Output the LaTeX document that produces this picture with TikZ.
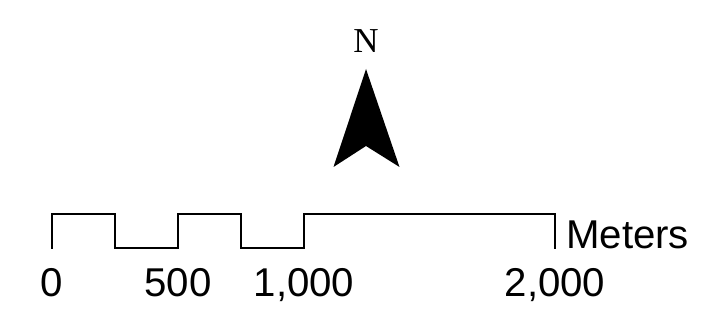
\documentclass[tikz,border=0pt]{standalone}
\usepackage{fontspec}
\setmainfont{Liberation Sans}
\newfontfamily\serifn{Liberation Serif}
\begin{document}
\begin{tikzpicture}[x=1pt,y=-1pt,
  scaletext/.style={inner sep=0pt,font=\fontsize{40.2}{43}\selectfont,anchor=base},
  barline/.style={line width=2.2pt,line join=miter,line cap=butt}]
\useasboundingbox[fill=white] (0,0) rectangle (707,323);
\coordinate (s0) at (52,249);
\coordinate (s1) at (52,214);
\coordinate (s2) at (115,214);
\coordinate (s3) at (115,248);
\coordinate (s4) at (178,248);
\coordinate (s5) at (178,214);
\coordinate (s6) at (241,214);
\coordinate (s7) at (241,248);
\coordinate (s8) at (304,248);
\coordinate (s9) at (304,214);
\coordinate (s10) at (555,214);
\coordinate (s11) at (555,249);
\draw[barline] (s0)--(s1)--(s2)--(s3)--(s4)--(s5)--(s6)--(s7)--(s8)--(s9)--(s10)--(s11);
\node[scaletext,anchor=base west] (meters) at (566,248) {Meters};
\node[scaletext] (l0) at (52,296) {0};
\node[scaletext] (l500) at (178,296) {500};
\node[scaletext] (l1000) at (304,296) {1,000};
\node[scaletext] (l2000) at (555,296) {2,000};
\node[inner sep=0pt,anchor=base,font=\serifn\fontsize{35}{38}\selectfont] (north) at (366,53) {N};
\fill[black] (366,69) -- (399.5,167) -- (366,146) -- (333.5,167) -- cycle;
\end{tikzpicture}
\end{document}
